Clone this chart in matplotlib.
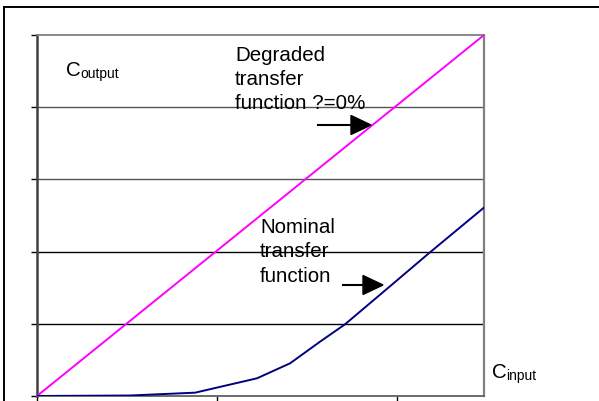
import matplotlib
matplotlib.use("Agg")
import matplotlib.pyplot as plt
from matplotlib.lines import Line2D

plt.rcParams['font.family'] = ['Liberation Sans', 'DejaVu Sans']

# Data
x_degraded = [0.0, 2.483]
y_degraded = [0.0, 5.0]
x_nominal = [0.0, 0.517, 0.878, 1.222, 1.406, 1.572, 1.711, 1.961, 2.183, 2.483]
y_nominal = [0.0, 0.007, 0.046, 0.245, 0.453, 0.752, 0.993, 1.52, 1.99, 2.61]
y_ticks = [0, 1, 2, 3, 4, 5]
x_ticks = [0, 1, 2]

W, H = 599, 401
fig = plt.figure(figsize=(W / 100, H / 100), dpi=100)
fig.patch.set_facecolor('white')

# outer frame (only top and left visible)
fig.add_artist(Line2D([4 / W, 1.0], [1 - 7 / H, 1 - 7 / H], color='black', lw=1.4, transform=fig.transFigure))
fig.add_artist(Line2D([4 / W, 4 / W], [0, 1 - 7 / H], color='black', lw=1.4, transform=fig.transFigure))

ax = fig.add_axes([37 / W, 5 / H, (484 - 37) / W, (396 - 35) / H])
ax.set_xlim(0, 2.483)
ax.set_ylim(0, 5)

ax.plot(x_degraded, y_degraded, color='#FF00FF', lw=1.4, zorder=3)
ax.plot(x_nominal, y_nominal, color='#000080', lw=1.4, zorder=3)

ax.set_yticks(y_ticks)
ax.set_xticks(x_ticks)
ax.set_yticklabels([])
ax.set_xticklabels([])
ax.tick_params(axis='y', direction='out', length=4.5, width=1.0, color='black')
ax.tick_params(axis='x', direction='out', length=4, width=1.0, color='black')

grid_colors = {1: 'black', 2: 'black', 3: '#555555', 4: '#555555'}
for yv, c in grid_colors.items():
    ax.axhline(yv, color=c, lw=1.0, zorder=1)

ax.spines['left'].set_color('#404040')
ax.spines['left'].set_linewidth(1.8)
ax.spines['right'].set_color('#808080')
ax.spines['right'].set_linewidth(1.6)
ax.spines['top'].set_color('#808080')
ax.spines['top'].set_linewidth(1.3)
ax.spines['bottom'].set_color('#606060')
ax.spines['bottom'].set_linewidth(1.3)
ax.set_clip_on(False)

def px(xp, yp):
    return (xp / W, 1 - yp / H)

fs = 14.8
# C_output label
fig.text(*px(66, 76), 'C', fontsize=fs, ha='left', va='baseline')
fig.text(*px(80, 78), 'output', fontsize=10, ha='left', va='baseline')
# C_input label
fig.text(*px(492, 378), 'C', fontsize=fs, ha='left', va='baseline')
fig.text(*px(506, 380), 'input', fontsize=10, ha='left', va='baseline')

# annotations
for i, t in enumerate(['Degraded', 'transfer', 'function ?=0%']):
    fig.text(*px(235, 61 + 24 * i), t, fontsize=fs, ha='left', va='baseline')
for i, t in enumerate(['Nominal', 'transfer', 'function']):
    fig.text(*px(260, 233 + 24.3 * i), t, fontsize=fs, ha='left', va='baseline')

# arrows
for (x0, x1, y) in [(318, 371, 125), (343, 383, 285)]:
    fig.add_artist(Line2D([x0 / W, (x1 - 19) / W], [1 - y / H, 1 - y / H], color='black', lw=1.5, transform=fig.transFigure))
    tri = plt.Polygon([px(x1 - 20, y - 9.5), px(x1, y), px(x1 - 20, y + 9.5)], closed=True,
                      facecolor='black', edgecolor='black', transform=fig.transFigure)
    fig.add_artist(tri)

fig.savefig('out.png', dpi=100)
